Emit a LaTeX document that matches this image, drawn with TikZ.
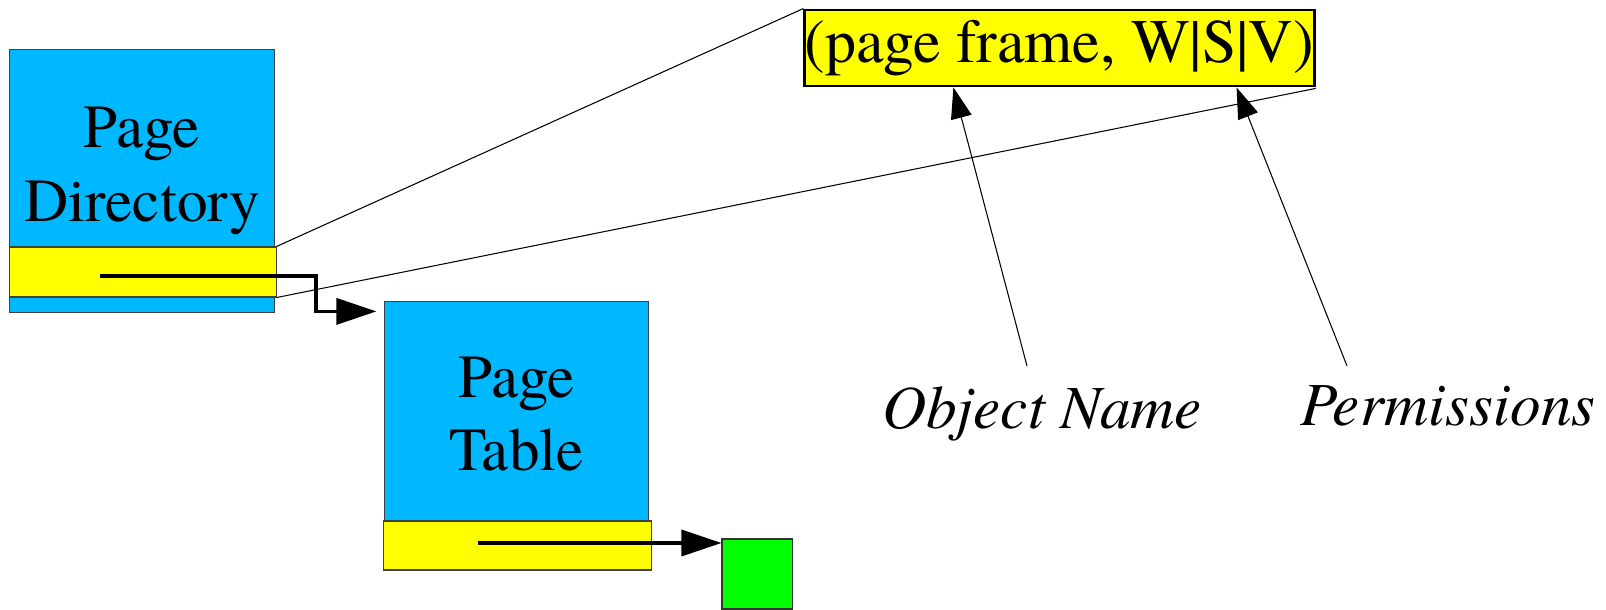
\documentclass[tikz,border=0pt]{standalone}
\usepackage{fontspec}
\setmainfont{texgyretermes}[Extension=.otf, UprightFont=*-regular, ItalicFont=*-italic, BoldFont=*-bold, BoldItalicFont=*-bolditalic]
\usetikzlibrary{arrows.meta}

\definecolor{tblblue}{RGB}{0,184,255}
\definecolor{pteyellow}{RGB}{255,255,0}
\definecolor{pagegreen}{RGB}{0,255,0}

\begin{document}
\begin{tikzpicture}[x=0.01cm, y=-0.01cm,
    tbl/.style={draw=black!75, line width=0.3pt, fill=tblblue, inner sep=0pt},
    pte/.style={draw=black!75, line width=0.3pt, fill=pteyellow, inner sep=0pt},
    lbl/.style={font=\fontsize{17.4}{21}\selectfont, align=center, inner sep=0pt},
    ptr/.style={line width=1pt, -{Triangle[length=0.4cm, width=0.26cm]}},
    note/.style={line width=0.3pt, -{Triangle[length=0.31cm, width=0.21cm]}}]
    \useasboundingbox (0,0) rectangle (1606,610);

    % Page Directory
    \node[tbl, minimum width=2.645cm, minimum height=2.635cm] (pd) at (142,181) {};
    \node[lbl] (pdname) at (142,171) {Page\\Directory};
    \node[pte, minimum width=2.66cm, minimum height=0.5cm] (pde) at (143,272) {};

    % Page Table
    \node[tbl, minimum width=2.63cm, minimum height=2.19cm] (pt) at (516.5,411.5) {};
    \node[lbl] (ptname) at (516.5,414) {Page\\Table};
    \node[pte, minimum width=2.67cm, minimum height=0.49cm] (pte) at (517.5,545.5) {};

    % Page frame
    \node[draw=black!80, line width=0.3pt, fill=pagegreen, minimum size=0.7cm, inner sep=0pt] (page) at (757,574) {};

    % Entry format
    \node[draw, line width=0.8pt, fill=pteyellow, minimum width=5.05cm, minimum height=0.76cm,
          font=\fontsize{17.6}{21}\selectfont, inner sep=0pt] (entry) at (1059.5,48) {(page frame, W|S|V)};

    % Field labels
    \node[lbl, font=\fontsize{17.4}{21}\selectfont\itshape, anchor=base] (objname) at (1042,429) {Object Name};
    \node[lbl, font=\fontsize{17.4}{21}\selectfont\itshape, anchor=base] (perms) at (1448,426) {Permissions};
    \coordinate (objtail) at (1027,366);
    \coordinate (permtail) at (1347,366);
    \coordinate (pdptr) at (100,276);
    \coordinate (ptptr) at (478,543);

    % Connections
    \draw[line width=0.3pt] (pde.north east) -- (entry.north west);
    \draw[line width=0.3pt] (pde.south east) -- ([yshift=-0.01cm]entry.south east);
    \draw[ptr] (pdptr) -- (316,276) |- ([xshift=-0.08cm, yshift=-0.1cm]pt.north west);
    \draw[ptr] (ptptr) -- (ptptr -| page.west);
    \draw[note] (objtail) -- ([xshift=1.5cm]entry.south west);
    \draw[note] (permtail) -- ([xshift=4.33cm]entry.south west);

\end{tikzpicture}
\end{document}
